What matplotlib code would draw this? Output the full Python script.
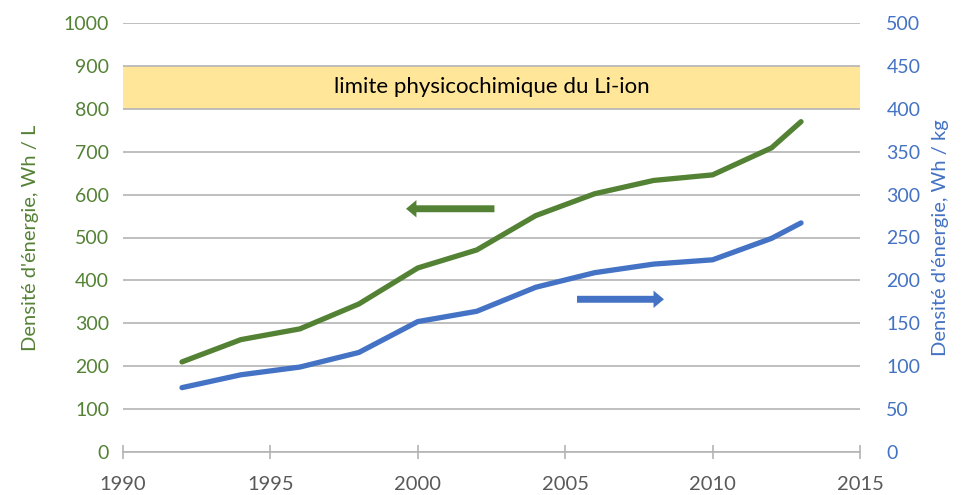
import matplotlib
matplotlib.use('Agg')
import matplotlib.pyplot as plt

plt.rcParams['font.family'] = ['Lato', 'DejaVu Sans']

GREEN = '#548235'
BLUE = '#4472C4'
GRID = '#b4b4b4'
BAND = '#FFE699'

years = [1992, 1994, 1996, 1998, 2000, 2002, 2004, 2006, 2008, 2010, 2012, 2013]
wh_per_l = [210, 262, 287, 345, 429, 471, 551, 602, 633, 646, 709, 770]
wh_per_kg = [75, 90, 99, 116, 152, 164, 192, 209, 219, 224, 249, 267]

x_ticks = [1990, 1995, 2000, 2005, 2010, 2015]
left_ticks = list(range(0, 1001, 100))
right_ticks = list(range(0, 501, 50))

band_low, band_high = 800, 900
band_label = 'limite physicochimique du Li-ion'

fig = plt.figure(figsize=(9.66, 4.95), dpi=100)
ax = fig.add_axes([123 / 966, 1 - 452 / 495, (860 - 123) / 966, (452 - 23) / 495])
ax2 = ax.twinx()

# yellow band + label
ax.axhspan(band_low, band_high, color=BAND, zorder=0, lw=0)
ax.text(2002.5, (band_low + band_high) / 2, band_label, ha='center', va='center',
        fontsize=16, color='black', zorder=3)

ax.plot(years, wh_per_l, color=GREEN, lw=3.8, solid_capstyle='round', zorder=4)
ax2.plot(years, wh_per_kg, color=BLUE, lw=3.8, solid_capstyle='round', zorder=4)

ax.set_xlim(1990, 2015)
ax.set_ylim(0, 1000)
ax2.set_ylim(0, 500)
ax.set_xticks(x_ticks)
ax.set_yticks(left_ticks)
ax2.set_yticks(right_ticks)

for a in (ax, ax2):
    for s in a.spines.values():
        s.set_visible(False)
ax.spines['bottom'].set_visible(True)
ax.spines['bottom'].set_color(GRID)
ax.spines['bottom'].set_linewidth(1.2)

ax.yaxis.grid(True, color=GRID, lw=1.2)
ax.set_axisbelow(True)

ax.tick_params(axis='x', direction='inout', length=10, width=1.2, color=GRID,
               labelsize=14.5, labelcolor='#595959', pad=12)
ax.tick_params(axis='y', length=0, labelsize=14, labelcolor=GREEN, pad=10)
ax2.tick_params(axis='y', length=0, labelsize=14, labelcolor=BLUE, pad=19)

ax.set_ylabel("Densité d'énergie, Wh / L", color=GREEN, fontsize=14.5, labelpad=18)
ax2.set_ylabel("Densité d'énergie, Wh / kg", color=BLUE, fontsize=14.5, labelpad=8)

# direction arrows
arrow_style = 'simple,head_length=0.75,head_width=1.25,tail_width=0.5'
ax.annotate('', xy=(1999.6, 567), xytext=(2002.6, 567),
            arrowprops=dict(arrowstyle=arrow_style, mutation_scale=10, color=GREEN,
                            shrinkA=0, shrinkB=0, lw=0))
ax2.annotate('', xy=(2008.35, 178), xytext=(2005.4, 178),
             arrowprops=dict(arrowstyle=arrow_style, mutation_scale=10, color=BLUE,
                             shrinkA=0, shrinkB=0, lw=0))

fig.savefig('out.png', dpi=100)
